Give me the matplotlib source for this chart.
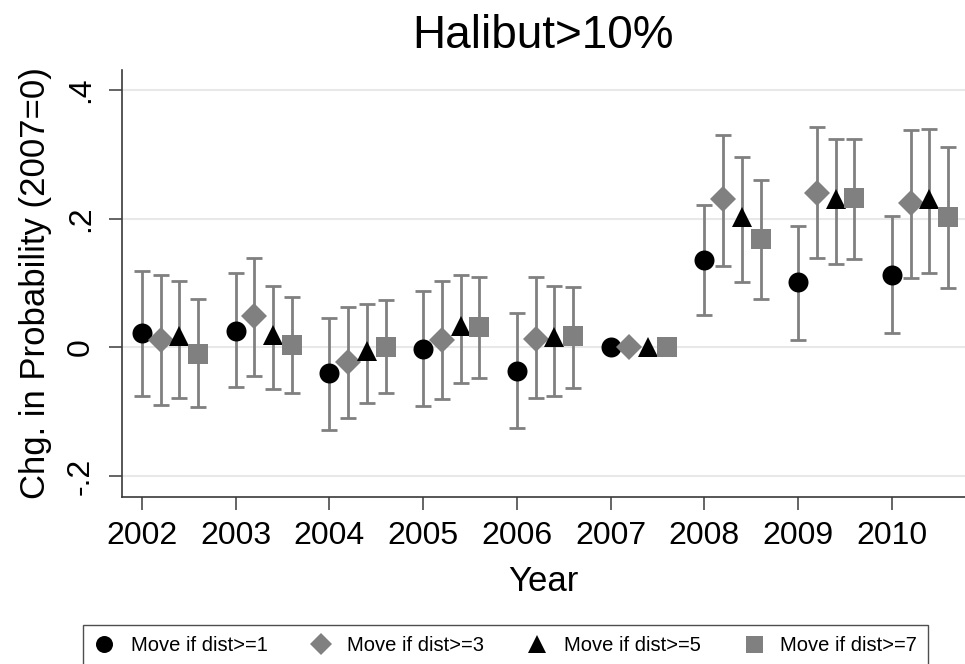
import numpy as np
import matplotlib
matplotlib.use("Agg")
import matplotlib.pyplot as plt

plt.rcParams['font.family'] = ['Liberation Sans', 'DejaVu Sans']

years = np.array([2002, 2003, 2004, 2005, 2006, 2007, 2008, 2009, 2010])

# point estimates and 95% bounds, 2007 is the base year (no interval)
b1  = [0.022, 0.026, -0.040, -0.002, -0.036, 0.0, 0.135, 0.101, 0.113]
lo1 = [-0.075, -0.061, -0.128, -0.091, -0.125, np.nan, 0.050, 0.011, 0.022]
hi1 = [0.119, 0.116, 0.046, 0.087, 0.054, np.nan, 0.221, 0.189, 0.204]

b3  = [0.012, 0.049, -0.022, 0.012, 0.013, 0.0, 0.231, 0.240, 0.224]
lo3 = [-0.089, -0.045, -0.109, -0.081, -0.079, np.nan, 0.126, 0.139, 0.108]
hi3 = [0.112, 0.139, 0.062, 0.103, 0.109, np.nan, 0.330, 0.342, 0.338]

b5  = [0.017, 0.019, -0.005, 0.033, 0.016, 0.0, 0.203, 0.231, 0.231]
lo5 = [-0.079, -0.065, -0.087, -0.055, -0.075, np.nan, 0.101, 0.129, 0.115]
hi5 = [0.103, 0.096, 0.068, 0.112, 0.096, np.nan, 0.296, 0.324, 0.340]

b7  = [-0.010, 0.004, 0.000, 0.032, 0.017, 0.0, 0.168, 0.232, 0.202]
lo7 = [-0.093, -0.071, -0.071, -0.047, -0.063, np.nan, 0.075, 0.137, 0.092]
hi7 = [0.075, 0.078, 0.074, 0.109, 0.094, np.nan, 0.260, 0.324, 0.312]

labels = ['Move if dist>=1', 'Move if dist>=3', 'Move if dist>=5', 'Move if dist>=7']
y_ticks = [-0.2, 0, 0.2, 0.4]
y_ticklabels = ['-.2', '0', '.2', '.4']

series = [(b1, lo1, hi1), (b3, lo3, hi3), (b5, lo5, hi5), (b7, lo7, hi7)]
styles = [('o', 'black', 14.4), ('D', '#808080', 13.2), ('^', 'black', 15.0), ('s', '#808080', 14.4)]
offsets = [0.0, 0.2, 0.4, 0.6]
ci_col = '#808080'
axis_col = '#3a3a3a'

fig = plt.figure(figsize=(9.65, 6.64), dpi=100)
ax = fig.add_axes([0.126, 0.252, 0.874, 0.6426])

for (b, lo, hi), (mk, col, ms), off, lab in zip(series, styles, offsets, labels):
    b = np.array(b)
    lo = np.array(lo)
    hi = np.array(hi)
    x = years + off
    ok = np.isfinite(lo)
    ax.errorbar(x[ok], (lo[ok] + hi[ok]) / 2, yerr=(hi[ok] - lo[ok]) / 2,
                fmt='none', ecolor=ci_col, elinewidth=2.0, capsize=5.8,
                capthick=2.0, zorder=2)
    ax.plot(x, b, linestyle='none', marker=mk, color=col, markersize=ms,
            markeredgewidth=0, label=lab, zorder=3)

ax.set_xlim(2001.784, 2010.78)
ax.set_ylim(-0.232, 0.431)
ax.set_xticks(years)
ax.set_xticklabels([str(y) for y in years])
ax.set_yticks(y_ticks)
ax.set_yticklabels(y_ticklabels, rotation=90, va='center')

ax.grid(axis='y', color='#e8e8e8', linewidth=1.5, zorder=0)
ax.set_axisbelow(True)
for side in ['top', 'right']:
    ax.spines[side].set_visible(False)
for side in ['left', 'bottom']:
    ax.spines[side].set_color(axis_col)
    ax.spines[side].set_linewidth(1.2)
ax.tick_params(axis='both', direction='out', length=9.5, width=1.1,
               color=axis_col, labelsize=23)
ax.tick_params(axis='x', pad=8)
ax.tick_params(axis='y', pad=9)

ax.set_xlabel('Year', fontsize=25, labelpad=10)
ax.set_ylabel('Chg. in Probability (2007=0)', fontsize=25, labelpad=10)
ax.set_title('Halibut>10%', fontsize=33, pad=16)

leg = fig.legend(loc='upper left', bbox_to_anchor=(0.0863, 0.0587), ncol=4,
                 fontsize=14.5, frameon=True, fancybox=False, handlelength=1.0,
                 handletextpad=0.8, columnspacing=2.15, borderpad=0.55,
                 borderaxespad=0, markerscale=0.85)
leg.get_frame().set_edgecolor('#222222')
leg.get_frame().set_linewidth(1.0)

fig.savefig('out.png', dpi=100)
